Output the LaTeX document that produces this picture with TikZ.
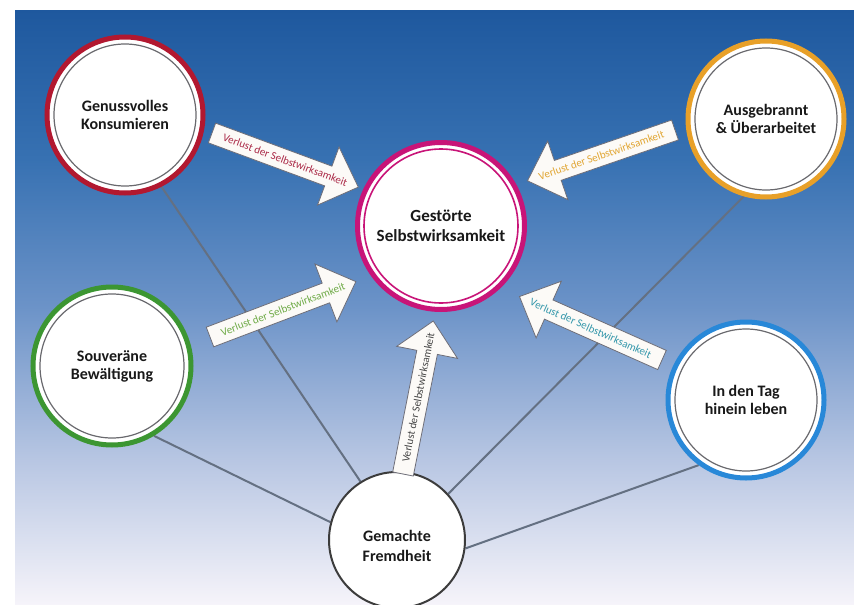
\documentclass[tikz,border=0pt]{standalone}
\usepackage{fontspec}
\setmainfont{Carlito}
\pgfdeclarelayer{bg}
\pgfsetlayers{bg,main}
\definecolor{bgtop}{RGB}{30,88,158}
\definecolor{bgqa}{RGB}{55,113,178}
\definecolor{bgmid}{RGB}{108,147,200}
\definecolor{bgqc}{RGB}{182,197,226}
\definecolor{bgbot}{RGB}{246,244,250}
\pgfdeclareverticalshading{bgshade}{100bp}{color(0bp)=(bgbot); color(25bp)=(bgbot); color(37.5bp)=(bgqc); color(50bp)=(bgmid); color(62.5bp)=(bgqa); color(75bp)=(bgtop); color(100bp)=(bgtop)}
\definecolor{ringred}{RGB}{178,24,48}
\definecolor{ringorange}{RGB}{232,160,40}
\definecolor{ringgreen}{RGB}{60,150,50}
\definecolor{ringblue}{RGB}{40,136,216}
\definecolor{ringpink}{RGB}{200,20,120}
\definecolor{txred}{RGB}{170,40,70}
\definecolor{txgreen}{RGB}{110,170,70}
\definecolor{txorange}{RGB}{225,165,50}
\definecolor{txteal}{RGB}{50,150,170}
\definecolor{txgray}{RGB}{70,70,70}
\definecolor{linkgray}{RGB}{100,112,130}
\definecolor{arrowedge}{RGB}{110,110,120}
\newcommand\vsarrow[6]{%
  \begin{scope}[shift={(#2,#3)}, rotate=#4]
    \draw[arrowbox] (0,-10.5) -- (124,-10.5) -- (124,-31) -- (156,0) -- (124,31) -- (124,10.5) -- (0,10.5) -- cycle;
    \node[arrowtext, text=#5, rotate=#6] (#1) at (78,0) {Verlust der Selbstwirksamkeit};
  \end{scope}}
\begin{document}
\begin{tikzpicture}[x=1pt, y=-1pt,
  ring/.style={circle, fill=white, line width=5pt, minimum size=#1, inner sep=0pt, align=center,
    font=\bfseries\fontsize{16}{18}\selectfont, text=black!90},
  innerring/.style={draw={rgb,255:red,105;green,105;blue,110}, line width=1.2pt},
  link/.style={draw=linkgray, line width=2pt},
  arrowbox/.style={draw=arrowedge, line width=0.8pt, fill={rgb,255:red,252;green,250;blue,247}},
  arrowtext/.style={font=\fontsize{11}{12}\selectfont, inner sep=0pt}]
\clip (0,0) rectangle (854,605);
\begin{pgfonlayer}{bg}
  \shade[shading=bgshade] (15,10) rectangle (854,605);
\end{pgfonlayer}
% circles
\node[ring=156pt, draw=ringred] (gk) at (125,115) {Genussvolles\\Konsumieren};
\draw[innerring] (gk.center) circle[radius=71pt];
\node[ring=156pt, draw=ringorange] (au) at (766,119) {Ausgebrannt\\\& Überarbeitet};
\draw[innerring] (au.center) circle[radius=71pt];
\node[ring=158pt, draw=ringgreen] (sb) at (112,366) {Souveräne\\Bewältigung};
\draw[innerring] (sb.center) circle[radius=72pt];
\node[ring=156pt, draw=ringblue] (it) at (746,400) {In den Tag\\hinein leben};
\draw[innerring] (it.center) circle[radius=71pt];
\node[ring=167pt, draw=ringpink, font=\bfseries\fontsize{17}{20}\selectfont] (gs) at (441,226) {Gestörte\\Selbstwirksamkeit};
\draw[draw=ringpink, line width=1.6pt] (gs.center) circle[radius=77pt];
\node[circle, fill=white, draw={rgb,255:red,60;green,60;blue,60}, line width=2pt, minimum size=136pt, inner sep=0pt] (gf) at (397,540) {};
\node[align=center, font=\bfseries\fontsize{16}{20}\selectfont, text=black!90] (gft) at (397,546) {Gemachte\\Fremdheit};
% links
\begin{pgfonlayer}{bg}
  \draw[link] (gf.122) -- (gk.-63);
  \draw[link] (gf.165) -- (sb.-59);
  \draw[link] (gf.42) -- (au.-106);
  \draw[link] (gf.-7) -- (it.-126);
\end{pgfonlayer}
% arrows
\vsarrow{ar1}{212}{133}{-20.3}{txred}{-20.3}
\vsarrow{ar2}{210}{337}{20.8}{txgreen}{20.8}
\vsarrow{ar3}{675}{130}{199}{txorange}{19}
\vsarrow{ar4}{662}{360}{156}{txteal}{-24}
\vsarrow{ar5}{403}{474}{78.8}{txgray}{78.8}
\end{tikzpicture}
\end{document}
